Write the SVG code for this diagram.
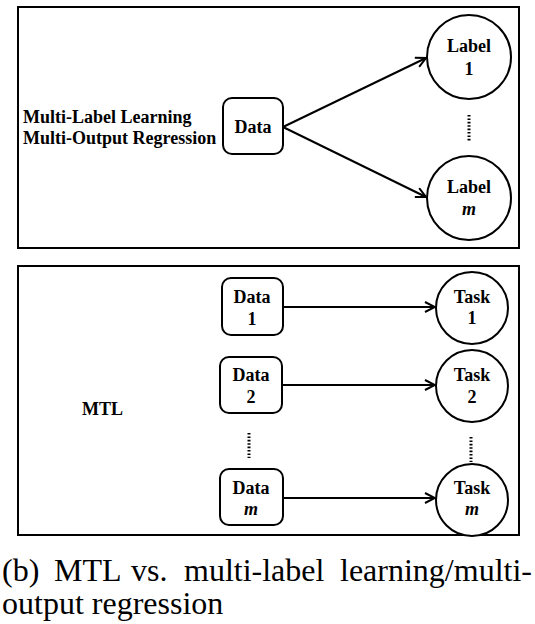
<svg xmlns="http://www.w3.org/2000/svg" width="535" height="624" viewBox="0 0 535 624">
<defs>
<style>
.frame{fill:none;stroke:#000;stroke-width:2}
.box{fill:#fff;stroke:#000;stroke-width:2}
.t{font-family:"Liberation Serif","Times New Roman",serif;font-weight:bold;font-size:18px;fill:#000}
.tc{text-anchor:middle}
.i{font-style:italic}
.edge{fill:none;stroke:#000;stroke-width:2}
.dots{fill:none;stroke:#000;stroke-width:3;stroke-dasharray:1.6 1.8}
.cap{font-family:"Liberation Serif","Times New Roman",serif;font-size:32px;fill:#000}
</style>
<marker id="arr" viewBox="0 0 12 12" refX="11" refY="6" markerWidth="12" markerHeight="12" markerUnits="userSpaceOnUse" orient="auto">
<path d="M1,1 L11,6 L1,11" fill="none" stroke="#000" stroke-width="2"/>
</marker>
</defs>
<rect width="535" height="624" fill="#fff"/>
<rect class="frame" x="18" y="7" width="501" height="241"/>
<rect class="frame" x="18" y="266" width="501" height="269"/>
<g id="label-top">
<text class="t" x="23" y="123">Multi-Label Learning</text>
<text class="t" x="23" y="144">Multi-Output Regression</text>
</g>
<g id="label-mtl"><text class="t" x="82" y="415">MTL</text></g>
<g id="connectors">
<line class="edge" x1="283" y1="127" x2="426" y2="58" marker-end="url(#arr)"/>
<line class="edge" x1="283" y1="127" x2="426" y2="197" marker-end="url(#arr)"/>
<line class="edge" x1="283" y1="307" x2="435" y2="307" marker-end="url(#arr)"/>
<line class="edge" x1="282" y1="385" x2="435" y2="385" marker-end="url(#arr)"/>
<line class="edge" x1="283" y1="498" x2="435" y2="498" marker-end="url(#arr)"/>
</g>
<g id="data-top"><rect class="box" x="223" y="98" width="60" height="56" rx="9"/><text class="t tc" x="253" y="133">Data</text></g>
<g id="label-1"><circle class="box" cx="469" cy="57" r="42"/><text class="t tc" x="469" y="52">Label</text><text class="t tc" x="469" y="75">1</text></g>
<g id="dots-label"><line class="dots" x1="469" y1="115" x2="469" y2="142"/></g>
<g id="label-m"><circle class="box" cx="469" cy="198" r="42"/><text class="t tc" x="469" y="193">Label</text><text class="t tc i" x="469" y="215">m</text></g>
<g id="data-1"><rect class="box" x="222" y="278" width="61" height="57" rx="9"/><text class="t tc" x="252" y="303">Data</text><text class="t tc" x="252" y="325">1</text></g>
<g id="data-2"><rect class="box" x="220" y="357" width="62" height="56" rx="9"/><text class="t tc" x="251" y="381">Data</text><text class="t tc" x="251" y="403">2</text></g>
<g id="dots-data"><line class="dots" x1="249" y1="433" x2="249" y2="458"/></g>
<g id="data-m"><rect class="box" x="220" y="469" width="63" height="56" rx="9"/><text class="t tc" x="251" y="494">Data</text><text class="t tc i" x="251" y="515">m</text></g>
<g id="task-1"><circle class="box" cx="472" cy="308" r="36"/><text class="t tc" x="472" y="303">Task</text><text class="t tc" x="472" y="324">1</text></g>
<g id="task-2"><circle class="box" cx="472" cy="386" r="36"/><text class="t tc" x="472" y="381">Task</text><text class="t tc" x="472" y="403">2</text></g>
<g id="dots-task"><line class="dots" x1="471" y1="437" x2="471" y2="462"/></g>
<g id="task-m"><circle class="box" cx="472" cy="500" r="36"/><text class="t tc" x="472" y="494">Task</text><text class="t tc i" x="472" y="515">m</text></g>
<g id="caption">
<text class="cap" y="581"><tspan x="2">(b)</tspan><tspan x="54">MTL</tspan><tspan x="131">vs.</tspan><tspan x="184">multi-label</tspan><tspan x="340">learning/multi-</tspan></text>
<text class="cap" x="2" y="614">output regression</text>
</g>
</svg>
